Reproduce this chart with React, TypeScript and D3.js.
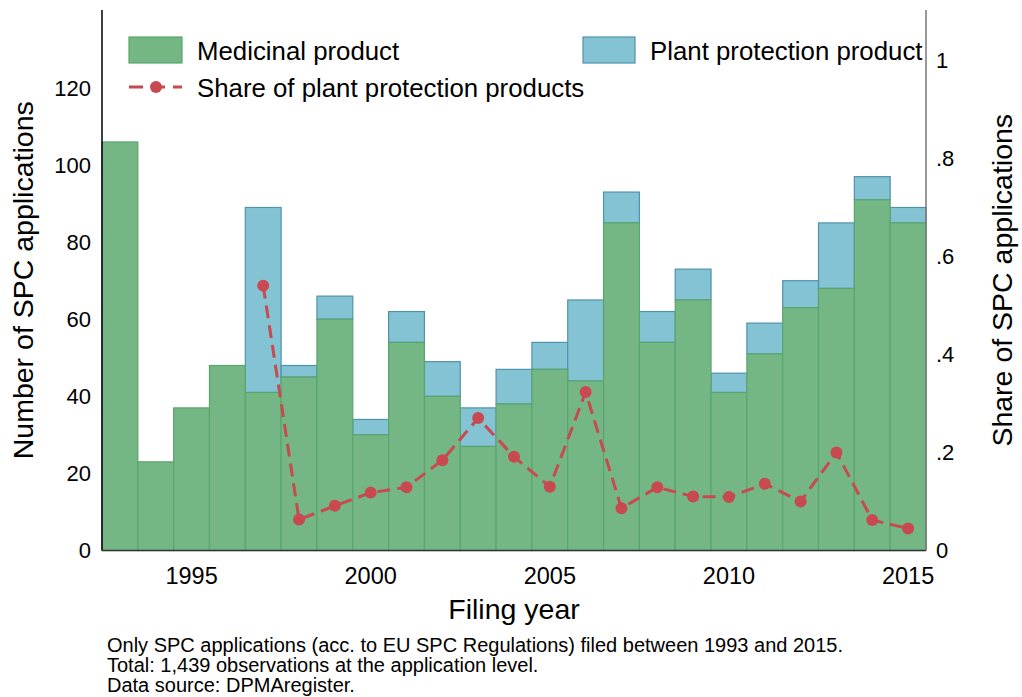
import React from "react";
import * as d3 from "d3";

const years = [1993,1994,1995,1996,1997,1998,1999,2000,2001,2002,2003,2004,2005,2006,2007,2008,2009,2010,2011,2012,2013,2014,2015];
const medicinal = [106,23,37,48,41,45,60,30,54,40,27,38,47,44,85,54,65,41,51,63,68,91,85];
const plantProtection = [0,0,0,0,48,3,6,4,8,9,10,9,7,21,8,8,8,5,8,7,17,6,4];
const shareValues: (number | null)[] = [null,null,null,null,0.54,0.063,0.091,0.118,0.129,0.184,0.27,0.191,0.13,0.323,0.086,0.129,0.11,0.109,0.136,0.1,0.2,0.062,0.045];
const xTicks = [1995, 2000, 2005, 2010, 2015];
const yLeftTicks = [0, 20, 40, 60, 80, 100, 120];
const yRightTicks = [0, 0.2, 0.4, 0.6, 0.8, 1];
const rightTickLabels = ["0", ".2", ".4", ".6", ".8", "1"];
const footnotes = [
  "Only SPC applications (acc. to EU SPC Regulations) filed between 1993 and 2015.",
  "Total: 1,439 observations at the application level.",
  "Data source: DPMAregister.",
];

const GREEN = "#74b785";
const GREEN_STROKE = "#5aa56e";
const BLUE = "#83c3d4";
const BLUE_STROKE = "#4f93ab";
const RED = "#c8494f";
const FONT = "'Liberation Sans', Arial, sans-serif";

export default function App() {
  const left = 102, right = 926, top = 10, bottom = 550.5;
  const x = d3.scaleLinear().domain([1992.5, 2015.5]).range([left, right]);
  const y = d3.scaleLinear().domain([0, 120]).range([bottom, 88]);
  const yr = d3.scaleLinear().domain([0, 1]).range([bottom, 60]);
  const bw = x(1994) - x(1993);

  const pts = years.map((yy, i) => ({ year: yy, v: shareValues[i] }));
  const line = d3
    .line<{ year: number; v: number | null }>()
    .defined((d) => d.v !== null)
    .x((d) => x(d.year))
    .y((d) => yr(d.v as number));

  return (
    <svg
      width={1022}
      height={697}
      style={{ position: "absolute", left: 0, top: 0, background: "#fff" }}
      fontFamily={FONT}
    >
      <rect x={0} y={0} width={1022} height={697} fill="#fff" />
      {years.map((yy, i) =>
        plantProtection[i] > 0 ? (
          <rect
            key={"p" + yy}
            x={x(yy) - bw / 2}
            y={y(medicinal[i] + plantProtection[i])}
            width={bw}
            height={y(medicinal[i]) - y(medicinal[i] + plantProtection[i])}
            fill={BLUE}
            stroke={BLUE_STROKE}
            strokeWidth={1.2}
          />
        ) : null
      )}
      {years.map((yy, i) => (
        <rect
          key={"m" + yy}
          x={x(yy) - bw / 2}
          y={y(medicinal[i])}
          width={bw}
          height={bottom - y(medicinal[i])}
          fill={GREEN}
          stroke={GREEN_STROKE}
          strokeWidth={1.2}
        />
      ))}
      <path d={line(pts) || ""} fill="none" stroke={RED} strokeWidth={3} strokeDasharray="13 7" />
      {pts.map((d) =>
        d.v !== null ? <circle key={"c" + d.year} cx={x(d.year)} cy={yr(d.v)} r={6} fill={RED} /> : null
      )}
      <line x1={left} x2={left} y1={top} y2={bottom} stroke="#000" strokeWidth={1.5} />
      <line x1={left} x2={right} y1={bottom} y2={bottom} stroke="#333" strokeWidth={1.5} />
      <line x1={right} x2={right} y1={top} y2={bottom} stroke="#777" strokeWidth={1.5} />
      {yLeftTicks.map((t) => (
        <text key={"yl" + t} x={91} y={y(t)} dy="0.36em" textAnchor="end" fontSize={22} fill="#000">
          {t}
        </text>
      ))}
      {yRightTicks.map((t, i) => (
        <text key={"yr" + t} x={936} y={yr(t)} dy="0.36em" textAnchor="start" fontSize={22} fill="#000">
          {rightTickLabels[i]}
        </text>
      ))}
      {xTicks.map((t) => (
        <text key={"x" + t} x={x(t)} y={583.5} textAnchor="middle" fontSize={23.5} fill="#000">
          {t}
        </text>
      ))}
      <text x={(left + right) / 2} y={619} textAnchor="middle" fontSize={28.5} fill="#000">
        Filing year
      </text>
      <text
        transform={`translate(32.5, ${(top + bottom) / 2}) rotate(-90)`}
        textAnchor="middle"
        fontSize={28.5}
        fill="#000"
      >
        Number of SPC applications
      </text>
      <text
        transform={`translate(1011.5, ${(top + bottom) / 2}) rotate(-90)`}
        textAnchor="middle"
        fontSize={28.5}
        fill="#000"
      >
        Share of SPC applications
      </text>
      <rect x={129} y={37} width={53} height={26} fill={GREEN} stroke={GREEN_STROKE} strokeWidth={1.2} />
      <text x={197} y={60} fontSize={25.8} fill="#000">Medicinal product</text>
      <rect x={583} y={37} width={52} height={26} fill={BLUE} stroke={BLUE_STROKE} strokeWidth={1.2} />
      <text x={650} y={60} fontSize={25.8} fill="#000">Plant protection product</text>
      <line x1={129} x2={182} y1={87} y2={87} stroke={RED} strokeWidth={3} strokeDasharray="14 8" />
      <circle cx={156} cy={87} r={6} fill={RED} />
      <text x={197} y={96.5} fontSize={25.8} fill="#000">Share of plant protection products</text>
      {footnotes.map((f, i) => (
        <text key={"f" + i} x={107} y={651.7 + i * 20} fontSize={20} fill="#000">
          {f}
        </text>
      ))}
    </svg>
  );
}
